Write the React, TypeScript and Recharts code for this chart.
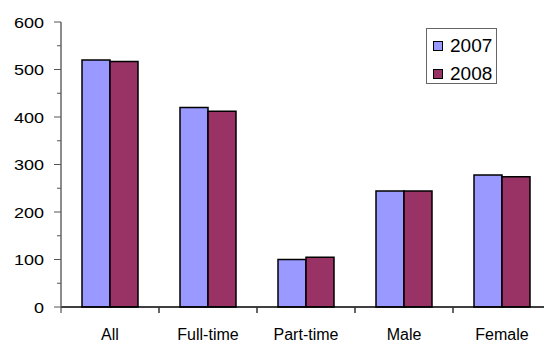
import { Bar, BarChart, Legend, XAxis, YAxis } from "recharts";

const categories = ["All", "Full-time", "Part-time", "Male", "Female"];
const values2007 = [520, 420, 100, 244, 278];
const values2008 = [517, 412, 105, 244, 274];
const yTicks = [0, 50, 100, 150, 200, 250, 300, 350, 400, 450, 500, 550, 600];

const data = categories.map((label, i) => ({
  label,
  y2007: values2007[i],
  y2008: values2008[i],
}));

const font = "'Liberation Sans', Arial, sans-serif";

function YTick({ x, y, payload }: any) {
  const major = payload.value % 100 === 0;
  return (
    <g>
      <line x1={x - (major ? 7 : 4)} x2={x} y1={y} y2={y} stroke="#555" strokeWidth={1} />
      {major && (
        <text
          transform={`translate(${x - 17},${y + 5.5}) scale(1.2,1)`}
          textAnchor="end"
          fontFamily={font}
          fontSize={15}
          fill="#000"
        >
          {payload.value}
        </text>
      )}
    </g>
  );
}

// label at category centre, tick marks on the category edges (Excel style)
function XTick({ x, y, payload }: any) {
  const half = payload.offset || 0;
  return (
    <g>
      {half > 0 && <line x1={x - half} x2={x - half} y1={y} y2={y + 6} stroke="#333" strokeWidth={1} />}
      {half > 0 && <line x1={x + half} x2={x + half} y1={y} y2={y + 6} stroke="#333" strokeWidth={1} />}
      <text x={x} y={y + 33} textAnchor="middle" fontFamily={font} fontSize={16} fill="#000">
        {payload.value}
      </text>
    </g>
  );
}

function LegendBox({ payload }: any) {
  return (
    <div
      style={{
        border: "1px solid #666",
        width: 71,
        height: 56,
        boxSizing: "border-box",
        background: "#fff",
        fontFamily: font,
        fontSize: 19,
        padding: "5px 0 0 6px",
      }}
    >
      {(payload || []).map((p: any) => (
        <div key={p.value} style={{ display: "flex", alignItems: "center", height: 23, marginBottom: 5 }}>
          <span
            style={{
              display: "inline-block",
              width: 8,
              height: 8,
              background: p.color,
              border: "1.5px solid #000",
              marginRight: 7,
            }}
          />
          <span>{p.value}</span>
        </div>
      ))}
    </div>
  );
}

export default function App() {
  return (
    <div style={{ position: "absolute", left: 0, top: 0, width: 544, height: 342, overflow: "hidden", background: "#fff" }}>
      <BarChart
        width={560}
        height={342}
        data={data}
        margin={{ top: 22, right: 9, bottom: 5, left: 6 }}
        barCategoryGap={21}
        barGap={0}
      >
        <XAxis dataKey="label" tick={<XTick />} tickLine={false} tickSize={0} tickMargin={0} axisLine={{ stroke: "#000", strokeWidth: 1.5 }} height={30} interval={0} />
        <YAxis
          domain={[0, 600]}
          ticks={yTicks}
          interval={0}
          tick={<YTick />}
          tickLine={false}
          tickSize={0}
          tickMargin={0}
          axisLine={{ stroke: "#666", strokeWidth: 1.5 }}
          width={55}
        />
        <Legend
          layout="vertical"
          align="center"
          verticalAlign="middle"
          content={<LegendBox />}
          wrapperStyle={{ left: 426, top: 28, width: 71, height: 56 }}
        />
        <Bar dataKey="y2007" name="2007" fill="#9999FF" stroke="#000" strokeWidth={1.5} isAnimationActive={false} />
        <Bar dataKey="y2008" name="2008" fill="#993366" stroke="#000" strokeWidth={1.5} isAnimationActive={false} />
      </BarChart>
    </div>
  );
}
